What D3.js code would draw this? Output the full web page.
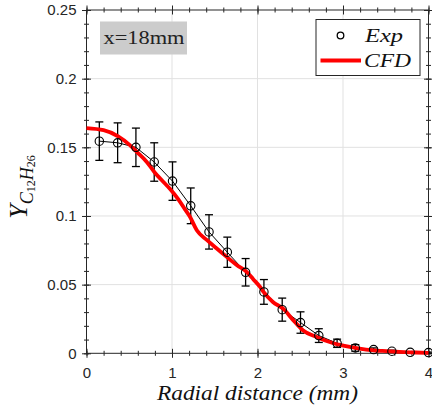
<!DOCTYPE html>
<html><head><meta charset="utf-8">
<script src="https://cdn.jsdelivr.net/npm/d3@7"></script>
<style>body{margin:0;background:#fff}svg{display:block}</style>
</head><body><div id="chart"></div>
<script>
// Experimental data
const expX = [0.15,0.364,0.578,0.792,1.006,1.219,1.433,1.647,1.861,2.075,2.289,2.503,2.717,2.931,3.144,3.358,3.572,3.786,4.0];
const expY = [0.1545,0.1533,0.1500,0.1393,0.1254,0.1074,0.0884,0.0736,0.0590,0.0447,0.0318,0.0224,0.0129,0.0073,0.0039,0.0027,0.0015,0.0007,0.0005];
const expErr = [0.014,0.0145,0.014,0.014,0.014,0.013,0.0125,0.011,0.010,0.009,0.0084,0.0078,0.005,0.003,0.0024,0.0012,0.0008,0.0005,0.0004];
// CFD curve
const cfdX = [0,0.2,0.37,0.5,0.6,0.71,0.8,0.9,0.98,1.07,1.15,1.21,1.29,1.41,1.52,1.64,1.76,1.87,1.95,2.03,2.07,2.18,2.30,2.42,2.53,2.69,2.88,3.08,3.27,3.46,3.66,3.85,4.0];
const cfdY = [0.164,0.1625,0.158,0.152,0.146,0.139,0.1315,0.1248,0.1195,0.1125,0.105,0.0994,0.0896,0.0824,0.0765,0.0702,0.0641,0.0595,0.054,0.0483,0.0447,0.0374,0.0325,0.024,0.0168,0.0119,0.0075,0.0046,0.0027,0.0017,0.0010,0.0006,0.0003];
const xTicks = [0,1,2,3,4];
const yTicks = [0,0.05,0.1,0.15,0.2,0.25];
const yTickLabels = ["0","0.05","0.1","0.15","0.2","0.25"];

const W = 432, H = 408;
const L = 86.5, R = 428.5, T = 10, B = 353.3;
const svg = d3.select("#chart").append("svg").attr("width", W).attr("height", H);
const x = d3.scaleLinear().domain([0,4]).range([L,R]);
const y = d3.scaleLinear().domain([0,0.25]).range([B,T]);

// grid
const grid = svg.append("g").attr("stroke","#e1e1e1").attr("stroke-width",1);
grid.selectAll("line.gx").data(xTicks.slice(1,-1)).join("line")
  .attr("x1",d=>x(d)).attr("x2",d=>x(d)).attr("y1",T).attr("y2",B);
grid.selectAll("line.gy").data(yTicks.slice(1,-1)).join("line")
  .attr("y1",d=>y(d)).attr("y2",d=>y(d)).attr("x1",L).attr("x2",R);

const axCol = "#262626";
const xMinor = d3.range(0,4.0001,0.2);
const yMinor = d3.range(0,0.25001,0.01);
function tickGroup(axis, tx, ty){
  const g = svg.append("g").attr("transform",`translate(${tx},${ty})`).call(axis);
  g.select(".domain").remove();
  g.selectAll("line").attr("stroke",axCol);
  return g;
}
const majLen = 4.5, minLen = 2.5;
[[d3.axisBottom(x).tickValues(xTicks).tickSize(majLen).tickFormat(""), 0, B],
 [d3.axisTop(x).tickValues(xTicks).tickSize(majLen).tickFormat(""), 0, B],
 [d3.axisBottom(x).tickValues(xMinor).tickSize(minLen).tickFormat(""), 0, B],
 [d3.axisTop(x).tickValues(xMinor).tickSize(minLen).tickFormat(""), 0, B],
 [d3.axisBottom(x).tickValues(xTicks).tickSize(majLen).tickFormat(""), 0, T],
 [d3.axisTop(x).tickValues(xTicks).tickSize(majLen).tickFormat(""), 0, T],
 [d3.axisBottom(x).tickValues(xMinor).tickSize(minLen).tickFormat(""), 0, T],
 [d3.axisTop(x).tickValues(xMinor).tickSize(minLen).tickFormat(""), 0, T],
 [d3.axisLeft(y).tickValues(yTicks).tickSize(majLen).tickFormat(""), L, 0],
 [d3.axisRight(y).tickValues(yTicks).tickSize(majLen).tickFormat(""), L, 0],
 [d3.axisLeft(y).tickValues(yMinor).tickSize(minLen).tickFormat(""), L, 0],
 [d3.axisRight(y).tickValues(yMinor).tickSize(minLen).tickFormat(""), L, 0],
 [d3.axisLeft(y).tickValues(yTicks).tickSize(majLen).tickFormat(""), R, 0],
 [d3.axisRight(y).tickValues(yTicks).tickSize(majLen).tickFormat(""), R, 0],
 [d3.axisLeft(y).tickValues(yMinor).tickSize(minLen).tickFormat(""), R, 0],
 [d3.axisRight(y).tickValues(yMinor).tickSize(minLen).tickFormat(""), R, 0]
].forEach(([a,tx,ty])=>tickGroup(a,tx,ty));

// tick labels
const xl = svg.append("g").attr("transform",`translate(0,${B})`)
  .call(d3.axisBottom(x).tickValues(xTicks).tickSize(0).tickPadding(14).tickFormat(d3.format("d")));
xl.select(".domain").remove();
xl.selectAll("text").attr("fill",axCol).attr("font-family","Liberation Sans, Arial, sans-serif").attr("font-size",15);
const yl = svg.append("g").attr("transform",`translate(${L},0)`)
  .call(d3.axisLeft(y).tickValues(yTicks).tickSize(0).tickPadding(10).tickFormat((d,i)=>yTickLabels[i]));
yl.select(".domain").remove();
yl.selectAll("text").attr("fill",axCol).attr("font-family","Liberation Sans, Arial, sans-serif").attr("font-size",15);

// box
svg.append("rect").attr("x",L).attr("y",T).attr("width",R-L).attr("height",B-T)
  .attr("fill","none").attr("stroke",axCol).attr("stroke-width",1);

// exp line
const expData = expX.map((v,i)=>({x:v,y:expY[i],e:expErr[i]}));
svg.append("path").datum(expData)
  .attr("d", d3.line().x(d=>x(d.x)).y(d=>y(d.y)))
  .attr("fill","none").attr("stroke","#000").attr("stroke-width",1);
// error bars
const eb = svg.append("g").attr("stroke","#000").attr("stroke-width",1.3);
eb.selectAll("line.v").data(expData).join("line")
  .attr("x1",d=>x(d.x)).attr("x2",d=>x(d.x)).attr("y1",d=>y(d.y+d.e)).attr("y2",d=>y(d.y-d.e));
eb.selectAll("line.t").data(expData).join("line")
  .attr("x1",d=>x(d.x)-4).attr("x2",d=>x(d.x)+4).attr("y1",d=>y(d.y+d.e)).attr("y2",d=>y(d.y+d.e));
eb.selectAll("line.b").data(expData).join("line")
  .attr("x1",d=>x(d.x)-4).attr("x2",d=>x(d.x)+4).attr("y1",d=>y(d.y-d.e)).attr("y2",d=>y(d.y-d.e));

// CFD line
const cfdData = cfdX.map((v,i)=>({x:v,y:cfdY[i]}));
svg.append("path").datum(cfdData)
  .attr("d", d3.line().curve(d3.curveMonotoneX).x(d=>x(d.x)).y(d=>y(d.y)))
  .attr("fill","none").attr("stroke","#ff0000").attr("stroke-width",3.8).attr("stroke-linejoin","round");

// circles
svg.append("g").selectAll("circle").data(expData).join("circle")
  .attr("cx",d=>x(d.x)).attr("cy",d=>y(d.y)).attr("r",4.2)
  .attr("fill","none").attr("stroke","#000").attr("stroke-width",1.1);

// annotation box
svg.append("rect").attr("x",100).attr("y",21.5).attr("width",87).attr("height",33).attr("fill","#cccccc");
svg.append("text").attr("x",103.5).attr("y",44).attr("font-family","Liberation Serif, Times New Roman, serif")
  .attr("font-size",18.5).attr("textLength",81).attr("lengthAdjust","spacingAndGlyphs").attr("fill","#222").text("x=18mm");

// legend
const serif = "Liberation Serif, Times New Roman, serif";
const lg = svg.append("g");
lg.append("rect").attr("x",316).attr("y",19.5).attr("width",104).attr("height",56)
  .attr("fill","#fff").attr("stroke",axCol).attr("stroke-width",1);
lg.append("circle").attr("cx",340.5).attr("cy",35.5).attr("r",3.3).attr("fill","none").attr("stroke","#000").attr("stroke-width",1.3);
lg.append("line").attr("x1",320.5).attr("x2",361).attr("y1",60.5).attr("y2",60.5).attr("stroke","#ff0000").attr("stroke-width",3.8);
lg.append("text").attr("x",365).attr("y",41.5).attr("font-family",serif)
  .attr("font-style","italic").attr("font-size",19).attr("textLength",38).attr("lengthAdjust","spacingAndGlyphs").attr("fill","#111").text("Exp");
lg.append("text").attr("x",364).attr("y",66.5).attr("font-family",serif)
  .attr("font-style","italic").attr("font-size",19).attr("textLength",47).attr("lengthAdjust","spacingAndGlyphs").attr("fill","#111").text("CFD");

// x label
svg.append("text").attr("x",157).attr("y",400)
  .attr("font-family",serif).attr("font-style","italic").attr("font-size",20)
  .attr("textLength",201).attr("lengthAdjust","spacingAndGlyphs")
  .attr("fill","#111").text("Radial distance (mm)");

// y label
const yt = svg.append("text").attr("transform","translate(27,187) rotate(-90)").attr("text-anchor","middle")
  .attr("font-family",serif).attr("font-style","italic").attr("fill","#111");
yt.append("tspan").attr("font-size",26).text("Y");
yt.append("tspan").attr("font-size",18).attr("dy",6).text("C");
yt.append("tspan").attr("font-size",12).attr("font-style","normal").attr("dy",2).text("12");
yt.append("tspan").attr("font-size",18).attr("dy",-2).text("H");
yt.append("tspan").attr("font-size",12).attr("font-style","normal").attr("dy",2).text("26");
</script></body></html>
